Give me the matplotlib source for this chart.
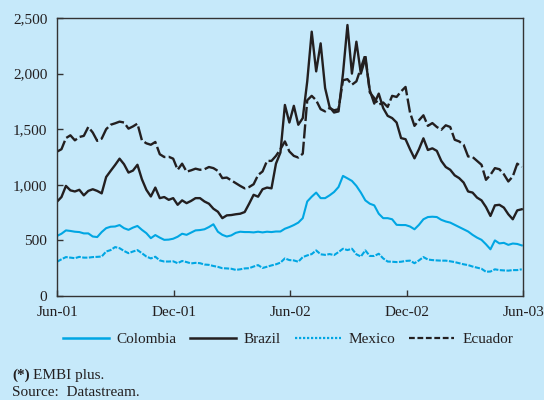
import matplotlib
matplotlib.use("Agg")
import matplotlib.pyplot as plt
import matplotlib.dates as mdates
import matplotlib.ticker as mticker
from matplotlib.lines import Line2D
import pandas as pd

# ---- data (weekly, EMBI plus spreads, basis points) ----
start_date = "2001-06-01"
n_weeks = 105

colombia = [540, 560, 590, 585, 578, 575, 563, 563, 535, 530,
            575, 610, 623, 625, 638, 610, 595, 615, 630, 595,
            565, 520, 548, 525, 505, 507, 515, 533, 560, 550,
            570, 590, 593, 600, 620, 645, 578, 550, 535, 545,
            568, 578, 575, 575, 572, 578, 572, 578, 575, 580,
            580, 605, 620, 638, 660, 700, 850, 893, 930, 880,
            880, 905, 935, 980, 1080, 1058, 1035, 990, 930, 860,
            830, 815, 740, 700, 700, 690, 640, 638, 638, 625,
            600, 640, 690, 710, 713, 710, 685, 670, 660, 640,
            620, 600, 580, 550, 525, 505, 465, 420, 500, 473,
            478, 460, 472, 468, 455]

brazil = [848, 890, 990, 950, 940, 955, 905, 945, 960, 945,
          923, 1070, 1125, 1178, 1235, 1185, 1110, 1128, 1180, 1050,
          955, 895, 975, 880, 890, 865, 880, 820, 860, 835,
          855, 880, 880, 850, 830, 785, 758, 700, 725, 728,
          735, 740, 755, 830, 910, 893, 960, 975, 968, 1190,
          1290, 1718, 1560, 1710, 1540, 1600, 1930, 2377, 2020, 2272,
          1870, 1700, 1650, 1660, 2000, 2437, 2000, 2287, 2000, 2137,
          1850, 1730, 1820, 1690, 1620, 1600, 1560, 1420, 1410, 1320,
          1238, 1320, 1418, 1313, 1328, 1305, 1215, 1160, 1135, 1085,
          1060, 1020, 940, 930, 885, 860, 800, 720, 815, 820,
          795, 735, 690, 770, 780]

mexico = [308, 330, 350, 345, 340, 352, 345, 345, 350, 352,
          355, 400, 413, 440, 430, 405, 385, 400, 413, 385,
          355, 338, 353, 320, 310, 310, 312, 295, 315, 305,
          293, 298, 295, 283, 280, 270, 262, 250, 248, 245,
          235, 240, 248, 250, 265, 278, 252, 263, 275, 285,
          300, 338, 323, 320, 308, 350, 365, 377, 410, 375,
          370, 377, 368, 395, 425, 413, 425, 375, 355, 410,
          360, 360, 380, 338, 310, 308, 305, 308, 315, 318,
          295, 320, 350, 328, 323, 320, 318, 318, 312, 305,
          295, 285, 278, 265, 255, 245, 218, 220, 240, 233,
          230, 228, 233, 233, 240]

ecuador = [1298, 1320, 1420, 1445, 1400, 1430, 1440, 1520, 1470, 1395,
           1415, 1500, 1540, 1553, 1568, 1560, 1505, 1525, 1550, 1400,
           1373, 1360, 1385, 1275, 1250, 1252, 1235, 1135, 1190, 1118,
           1130, 1145, 1135, 1140, 1160, 1150, 1125, 1060, 1065, 1040,
           1015, 990, 968, 980, 1005, 1088, 1120, 1215, 1215, 1260,
           1320, 1390, 1300, 1260, 1245, 1280, 1760, 1800, 1760, 1680,
           1660, 1690, 1670, 1680, 1940, 1950, 1900, 1930, 2050, 2170,
           1830, 1780, 1720, 1740, 1700, 1800, 1790, 1840, 1880, 1650,
           1530, 1580, 1625, 1530, 1555, 1520, 1495, 1535, 1520, 1405,
           1390, 1360, 1255, 1250, 1215, 1180, 1045, 1090, 1150, 1140,
           1095, 1030, 1075, 1190, 1160]

series_names = ["Colombia", "Brazil", "Mexico", "Ecuador"]
tick_dates = ["2001-06-01", "2001-12-01", "2002-06-01", "2002-12-01", "2003-06-01"]
y_ticks = [0, 500, 1000, 1500, 2000, 2500]

# ---- styling ----
BG = "#c6e9fa"
BLUE = "#00a6e3"
BLACK = "#231f20"
FONT = "Liberation Serif"
FS = 11

plt.rcParams["font.family"] = [FONT, "DejaVu Serif"]

dates = pd.date_range(start_date, periods=n_weeks, freq="7D")

fig = plt.figure(figsize=(5.44, 4.00), dpi=100, facecolor=BG)
ax = fig.add_axes([57 / 544, 104 / 400, 466 / 544, 278 / 400])
ax.set_facecolor(BG)

# line style in the plot area (dense) and in the legend key
plot_styles = {
    "Colombia": dict(color=BLUE, lw=1.5, ls="-"),
    "Brazil": dict(color=BLACK, lw=1.7, ls="-"),
    "Mexico": dict(color=BLUE, lw=1.5, ls=(0, (2.5, 0.7))),
    "Ecuador": dict(color=BLACK, lw=1.7, ls=(0, (6, 1.4))),
}
key_styles = {
    "Colombia": dict(color=BLUE, lw=1.8, ls="-"),
    "Brazil": dict(color=BLACK, lw=1.8, ls="-"),
    "Mexico": dict(color=BLUE, lw=1.6, ls=(0, (1.0, 0.8))),
    "Ecuador": dict(color=BLACK, lw=1.6, ls=(0, (2.6, 1.2))),
}
data = {"Colombia": colombia, "Brazil": brazil, "Mexico": mexico, "Ecuador": ecuador}

for name in series_names:
    ax.plot(dates, data[name], label=name, **plot_styles[name])

ax.set_xlim(pd.Timestamp(tick_dates[0]), pd.Timestamp(tick_dates[-1]))
ax.set_ylim(y_ticks[0], y_ticks[-1])
ax.set_xticks([pd.Timestamp(d) for d in tick_dates])
ax.xaxis.set_major_formatter(mdates.DateFormatter("%b-%y"))
ax.set_yticks(y_ticks)
ax.yaxis.set_major_formatter(mticker.FuncFormatter(lambda v, p: f"{int(v):,}"))

for s in ax.spines.values():
    s.set_color("#333333")
    s.set_linewidth(1.0)

ax.tick_params(axis="both", direction="in", length=4, width=1.0, color="#333333",
               labelsize=FS, labelcolor=BLACK)
ax.tick_params(axis="x", pad=7)
ax.tick_params(axis="y", pad=7)

handles = [Line2D([], [], **key_styles[n]) for n in series_names]
leg = fig.legend(handles, series_names, loc="center",
                 bbox_to_anchor=(288 / 544, 1 - 339 / 400), ncol=4,
                 frameon=False, fontsize=FS, handlelength=3.0, handletextpad=0.5,
                 columnspacing=0.9)
for t in leg.get_texts():
    t.set_color(BLACK)

# footnotes
t1 = fig.text(12 / 544, 1 - 375 / 400, "(*)", fontsize=FS, fontweight="bold",
              color=BLACK, va="center", ha="left")
fig.canvas.draw()
bb = t1.get_window_extent(renderer=fig.canvas.get_renderer())
fig.text((bb.x1 + 3) / 544, 1 - 375 / 400, "EMBI plus.", fontsize=FS, color=BLACK,
         va="center", ha="left")
fig.text(12 / 544, 1 - 393 / 400, "Source:  Datastream.", fontsize=FS, color=BLACK,
         va="center", ha="left")

fig.savefig("out.png", dpi=100, facecolor=BG)
